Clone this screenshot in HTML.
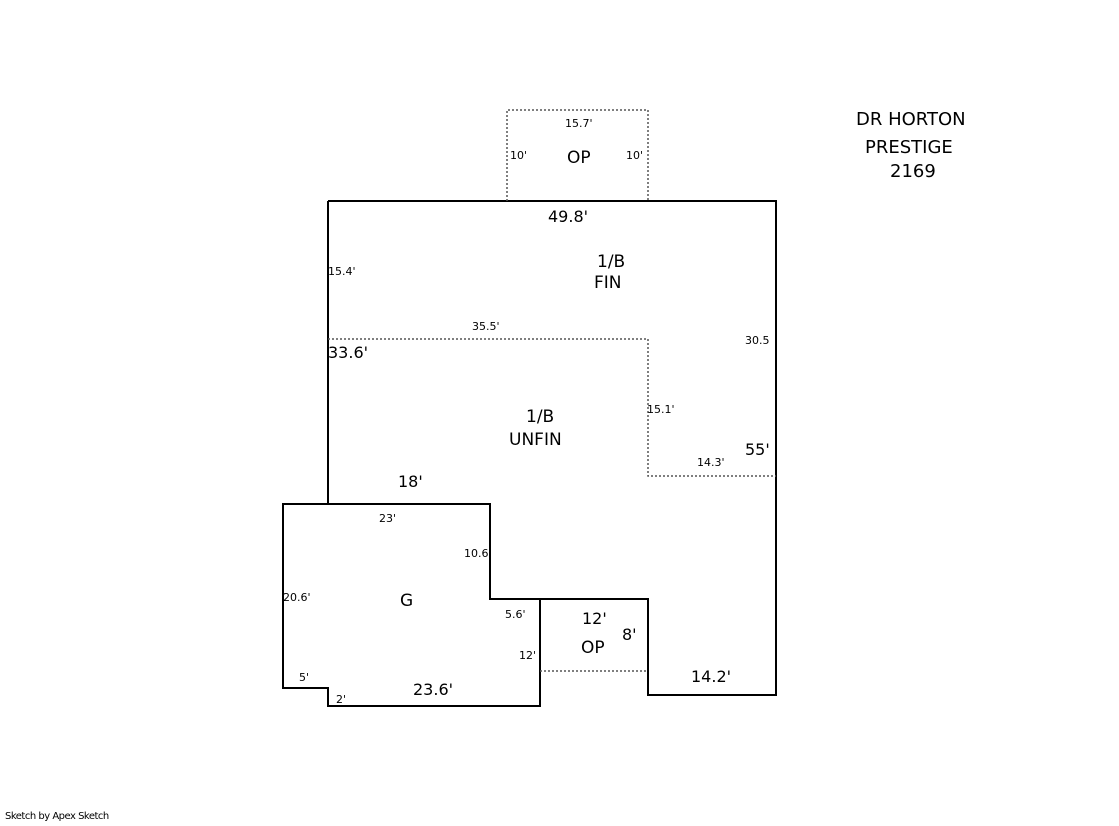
<!DOCTYPE html>
<html><head><style>
body{margin:0;background:#fff}
svg text{font-family:"DejaVu Sans",Verdana,sans-serif;fill:#000}
.s{font-size:11px}.m{font-size:16px}.l{font-size:17px}.t{font-size:18px}
</style></head><body>
<svg width="1119" height="821" xmlns="http://www.w3.org/2000/svg">
<g fill="none" stroke="#000" stroke-width="2">
<path d="M328,201H776V695H648V599H540V706H328V688H283V504H490V599H540"/>
<path d="M328,201V504"/>
</g>
<g fill="none" stroke="#555" stroke-width="1.5" stroke-dasharray="2,2">
<path d="M507,201V110H648V201"/>
<path d="M328,339H648V476H776"/>
<path d="M540,671H648"/>
</g>
<text class="s" x="565" y="127">15.7'</text>
<text class="s" x="510" y="159">10'</text>
<text class="s" x="626" y="159">10'</text>
<text class="l" x="567" y="163">OP</text>
<text class="m" x="548" y="222">49.8'</text>
<text class="l" x="597" y="267">1/B</text>
<text class="l" x="594" y="288">FIN</text>
<text class="s" x="328" y="275">15.4'</text>
<text class="s" x="472" y="330">35.5'</text>
<text class="s" x="745" y="344">30.5</text>
<text class="m" x="328" y="358">33.6'</text>
<text class="l" x="526" y="422">1/B</text>
<text class="l" x="509" y="445">UNFIN</text>
<text class="s" x="647" y="413">15.1'</text>
<text class="s" x="697" y="466">14.3'</text>
<text class="m" x="745" y="455">55'</text>
<text class="m" x="398" y="487">18'</text>
<text class="s" x="379" y="522">23'</text>
<text class="s" x="464" y="557">10.6</text>
<text class="s" x="283" y="601">20.6'</text>
<text class="l" x="400" y="606">G</text>
<text class="s" x="505" y="618">5.6'</text>
<text class="s" x="519" y="659">12'</text>
<text class="m" x="582" y="624">12'</text>
<text class="l" x="581" y="653">OP</text>
<text class="m" x="622" y="640">8'</text>
<text class="s" x="299" y="681">5'</text>
<text class="s" x="336" y="703">2'</text>
<text class="m" x="413" y="695">23.6'</text>
<text class="m" x="691" y="682">14.2'</text>
<text class="t" x="856" y="125">DR HORTON</text>
<text class="t" x="865" y="153">PRESTIGE</text>
<text class="t" x="890" y="177">2169</text>
<text x="5" y="819" style="font-size:10px;letter-spacing:-0.5px">Sketch by Apex Sketch</text>
</svg>
</body></html>
